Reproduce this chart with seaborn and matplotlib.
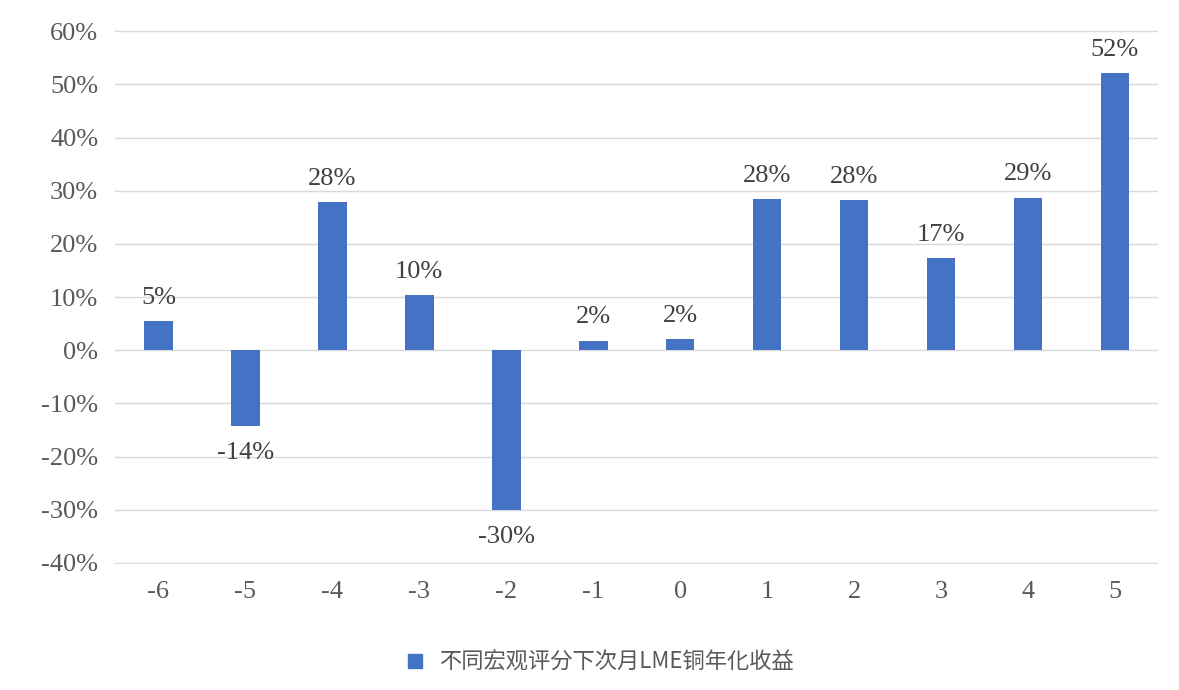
import matplotlib
matplotlib.use("Agg")
import matplotlib.pyplot as plt
import seaborn as sns
import pandas as pd
from matplotlib.patches import Patch
from matplotlib import font_manager as fm

categories = ["-6", "-5", "-4", "-3", "-2", "-1", "0", "1", "2", "3", "4", "5"]
values = [5.5, -14.2, 27.8, 10.4, -30.0, 1.8, 2.1, 28.4, 28.2, 17.3, 28.7, 52.2]
labels = ["5%", "-14%", "28%", "10%", "-30%", "2%", "2%", "28%", "28%", "17%", "29%", "52%"]
series_name = "不同宏观评分下次月LME铜年化收益"
color = "#4472C4"

names = {f.name for f in fm.fontManager.ttflist}
cjk = next((n for n in ["Noto Sans CJK SC", "Noto Sans CJK JP", "Noto Sans CJK TC",
                        "Noto Sans CJK KR", "Noto Serif CJK SC"] if n in names), "DejaVu Sans")

df = pd.DataFrame({"cat": categories, "val": values})

fig = plt.figure(figsize=(11.79, 6.9), dpi=100)
ax = fig.add_axes([0.0975, 0.182, 0.885, 0.775])
sns.barplot(data=df, x="cat", y="val", color=color, width=0.33, ax=ax, saturation=1)

ax.set_ylim(-40.3, 60.3)
ax.set_yticks(range(-40, 61, 10))
ax.set_yticklabels([f"{t}%" for t in range(-40, 61, 10)])
ax.yaxis.grid(True, color="#D9D9D9", linewidth=1)
ax.set_axisbelow(True)
for s in ax.spines.values():
    s.set_visible(False)
ax.tick_params(length=0, labelsize=19, colors="#595959", pad=12)
for t in ax.get_xticklabels() + ax.get_yticklabels():
    t.set_fontfamily("Liberation Serif")
ax.set_xlabel("")
ax.set_ylabel("")

for i, (v, lab) in enumerate(zip(values, labels)):
    off = 2.3 if v >= 0 else -3
    ax.text(i, v + off, lab, ha="center", va="bottom" if v >= 0 else "top",
            fontsize=19, fontfamily="Liberation Serif", color="#404040")

fig.legend(handles=[Patch(color=color)], labels=[series_name], loc="center",
           bbox_to_anchor=(0.51, 0.04), frameon=False, handlelength=0.6, handleheight=0.6,
           prop={"family": cjk, "size": 16}, labelcolor="#595959")
fig.savefig("out.png", dpi=100)
